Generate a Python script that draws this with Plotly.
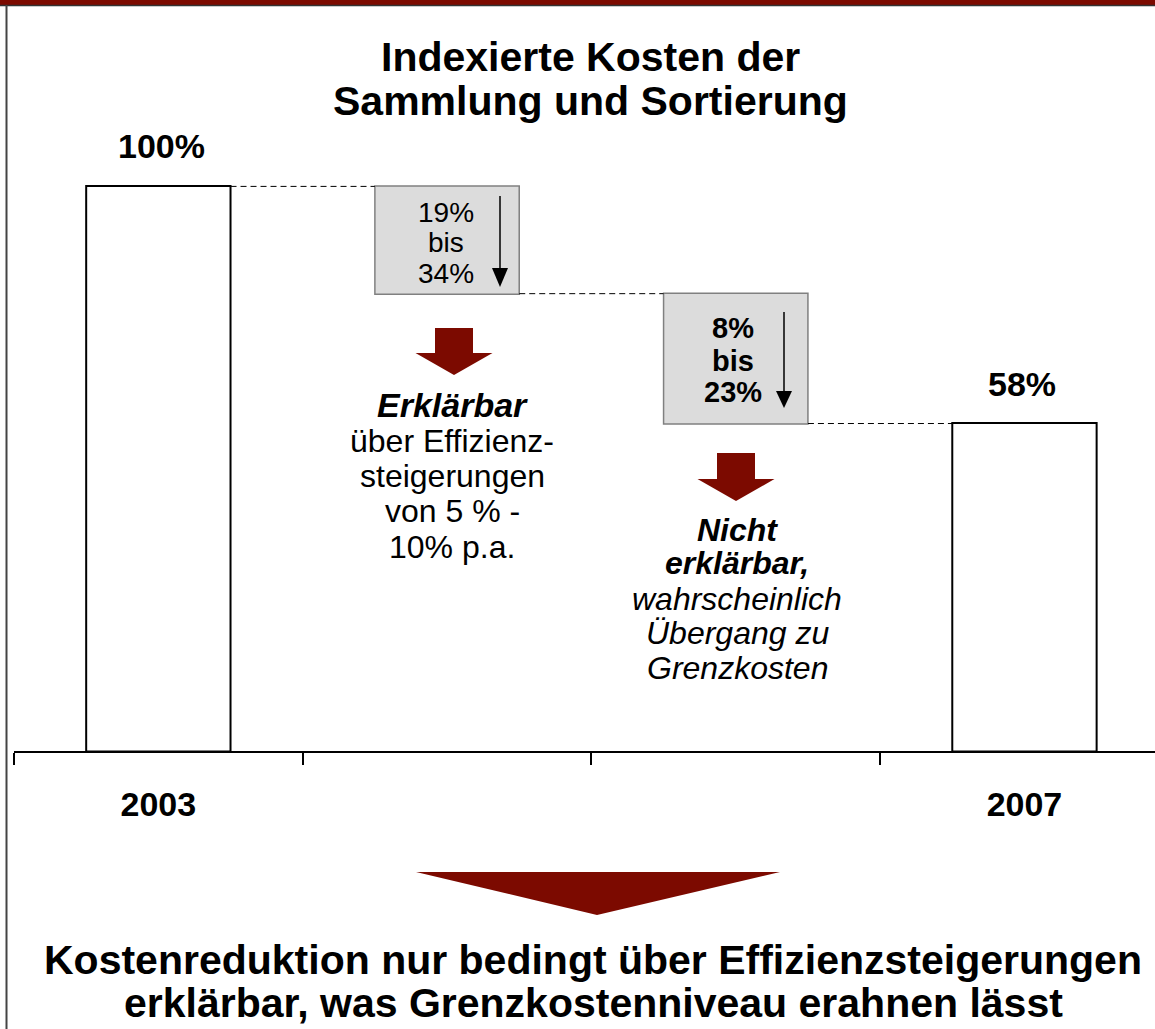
import plotly.graph_objects as go

# ---------------- data ----------------
categories = [0, 1, 2, 3]
category_labels = ["2003", "2007"]
label_positions = [0, 3]
measures = ["absolute", "relative", "relative", "total"]
values = [100, -19, -23, 0]
bar_labels = ["100%", "58%"]

box1_lines = ["19%", "bis", "34%"]
box2_lines = ["<b>8%</b>", "<b>bis</b>", "<b>23%</b>"]
note1_lines = ["<b><i>Erklärbar</i></b>", "über Effizienz-", "steigerungen", "von 5 % -", "10% p.a."]
note2_lines = ["<b><i>Nicht</i></b>", "<b><i>erklärbar,</i></b>", "<i>wahrscheinlich</i>",
               "<i>Übergang zu</i>", "<i>Grenzkosten</i>"]
title_lines = ["Indexierte Kosten der", "Sammlung und Sortierung"]
conclusion_lines = ["Kostenreduktion nur bedingt über Effizienzsteigerungen",
                    "erklärbar, was Grenzkostenniveau erahnen lässt"]

# ---------------- layout helpers ----------------
W, H = 1155, 1029
ML, MB = 14, 278
PLOT_H = H - MB
CAT_PX = 288.7
PCT_PX = 5.646
FONT = "Liberation Sans, Arial, sans-serif"
DARKRED = "#7C0A00"

x_max = -0.5 + (W - ML) / CAT_PX
y_max = PLOT_H / PCT_PX


def xd(px):
    return -0.5 + (px - ML) / CAT_PX


def yd(py):
    return (PLOT_H - py) / PCT_PX


def xp(px):
    return (px - ML) / (W - ML)


def yp(py):
    return (PLOT_H - py) / PLOT_H


fig = go.Figure()
fig.add_trace(go.Waterfall(
    x=categories, y=values, measure=measures, width=0.5,
    totals=dict(marker=dict(color="white", line=dict(color="black", width=2))),
    decreasing=dict(marker=dict(color="#dcdcdc", line=dict(color="#808080", width=1.5))),
    increasing=dict(marker=dict(color="#dcdcdc", line=dict(color="#808080", width=1.5))),
    connector=dict(mode="between", line=dict(color="black", width=1, dash="6px,4px")),
    hoverinfo="skip", showlegend=False,
))

ann = []


def text(x, y, s, size, xref="x", yref="y"):
    ann.append(dict(x=x, y=y, xref=xref, yref=yref, text=s, showarrow=False,
                    xanchor="center", yanchor="middle",
                    font=dict(family=FONT, size=size, color="black")))


# value labels above bars
text(xd(161), yd(146), "<b>%s</b>" % bar_labels[0], 34)
text(xd(1022), yd(384), "<b>%s</b>" % bar_labels[1], 34)

# box texts
for s, py in zip(box1_lines, [212, 242, 273]):
    text(xd(446), yd(py), s, 28)
for s, py in zip(box2_lines, [328, 361, 392]):
    text(xd(733), yd(py), s, 29)

# notes
note1_sizes = [34, 32, 32, 32, 32]
for s, py, fs in zip(note1_lines, [405, 441, 476, 511, 546.5], note1_sizes):
    text(xd(452), yd(py), s, fs)
for s, py in zip(note2_lines, [530, 562.5, 599, 632.5, 667.5]):
    text(xd(737), yd(py), s, 32)

# title and conclusion
for s, py in zip(title_lines, [57, 101]):
    text(xp(590), yp(py), "<b>%s</b>" % s, 41, "paper", "paper")
for s, py in zip(conclusion_lines, [960, 1003]):
    text(xp(593), yp(py), "<b>%s</b>" % s, 41, "paper", "paper")

shapes = []


def poly(pts, ref, color):
    if ref == "data":
        conv = [(xd(a), yd(b)) for a, b in pts]
        xr, yr = "x", "y"
    else:
        conv = [(xp(a), yp(b)) for a, b in pts]
        xr, yr = "paper", "paper"
    path = "M " + " L ".join("%.5f,%.5f" % p for p in conv) + " Z"
    shapes.append(dict(type="path", path=path, xref=xr, yref=yr,
                       fillcolor=color, line=dict(width=0), layer="above"))


def red_arrow(cx, top, neck, tip, shaft=19, head=38.5):
    poly([(cx - shaft, top), (cx + shaft, top), (cx + shaft, neck), (cx + head, neck),
          (cx, tip), (cx - head, neck), (cx - shaft, neck)], "data", DARKRED)


def thin_arrow(x, top, neck, tip, half=8):
    shapes.append(dict(type="line", xref="x", yref="y", x0=xd(x), x1=xd(x),
                       y0=yd(top), y1=yd(neck + 2), line=dict(color="black", width=1.5),
                       layer="above"))
    poly([(x - half, neck), (x + half, neck), (x, tip)], "data", "black")


red_arrow(454, 328, 353, 375)
red_arrow(736, 453, 479, 501)
thin_arrow(500, 196, 268, 287)
thin_arrow(784, 312, 391, 408)

# big conclusion arrow
poly([(416, 872), (780, 872), (597, 915)], "paper", DARKRED)

# top band and left border
shapes.append(dict(type="rect", xref="paper", yref="paper", x0=xp(-5), x1=xp(W + 5),
                   y0=yp(5), y1=yp(-5), fillcolor=DARKRED, line=dict(width=0)))
shapes.append(dict(type="line", xref="paper", yref="paper", x0=xp(0), x1=xp(W),
                   y0=yp(5.5), y1=yp(5.5), line=dict(color="#333333", width=1.5)))
shapes.append(dict(type="line", xref="paper", yref="paper", x0=xp(6.5), x1=xp(6.5),
                   y0=yp(5), y1=yp(H + 5), line=dict(color="#444444", width=2)))

fig.update_layout(
    width=W, height=H,
    margin=dict(l=ML, r=0, t=0, b=MB),
    paper_bgcolor="white", plot_bgcolor="white",
    annotations=ann, shapes=shapes, showlegend=False,
    xaxis=dict(range=[-0.5, x_max], showgrid=False, zeroline=False,
               showline=True, linecolor="black", linewidth=2,
               tickmode="array", tickvals=label_positions,
               ticktext=["<b>%s</b>" % s for s in category_labels],
               ticks="", tickfont=dict(family=FONT, size=34, color="black"),
               ticklabelstandoff=22,
               minor=dict(tickmode="array", tickvals=[-0.5, 0.5, 1.5, 2.5],
                          ticks="outside", ticklen=12, tickwidth=2, tickcolor="black",
                          showgrid=False),
               fixedrange=True),
    yaxis=dict(range=[0, y_max], visible=False, fixedrange=True),
)

fig.write_html("out.html", config={"displayModeBar": False},
               post_script="document.body.style.margin='0px';")
